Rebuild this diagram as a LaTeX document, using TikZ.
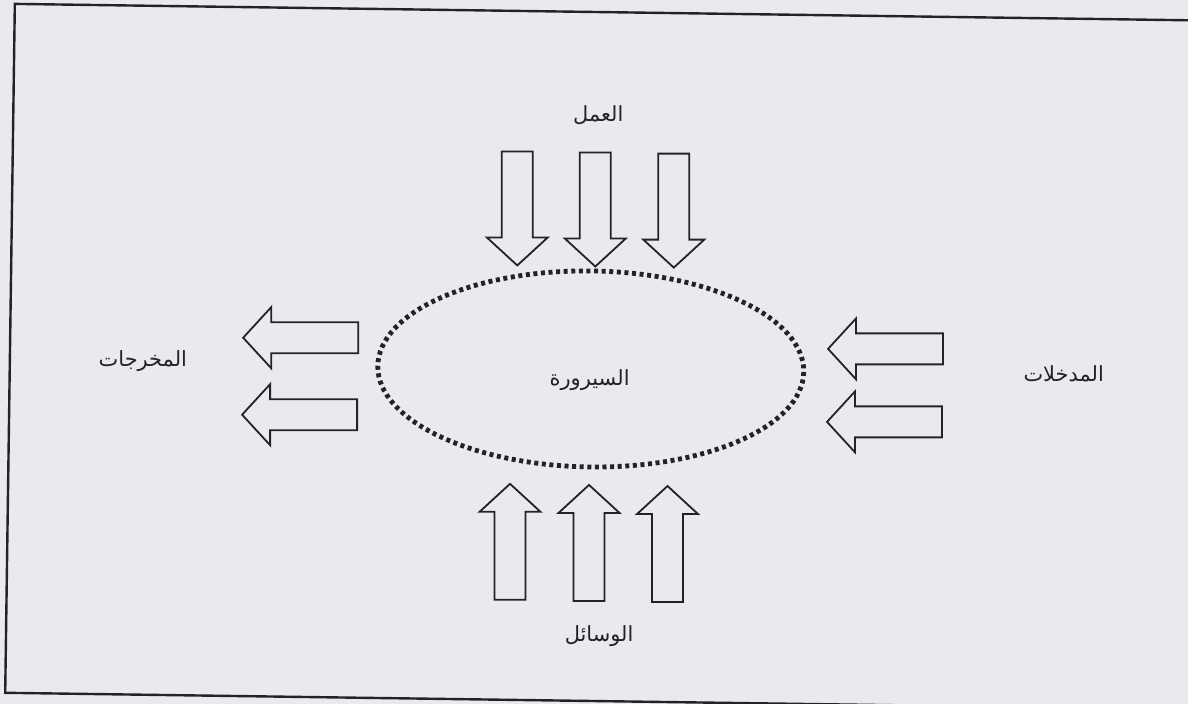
\documentclass[tikz,border=0pt]{standalone}
\usepackage{fontspec}
\newfontfamily\arabicfont[Script=Arabic]{DejaVu Sans}
\TeXXeTstate=1
\definecolor{paper}{RGB}{233,234,240}
\definecolor{ink}{RGB}{34,34,40}
\tikzset{
  arrowlen/.store in=\arrlen, arrowlen=115,
  outline/.style={draw=ink, line width=1.8bp, line join=miter},
  % hollow block arrow pointing along local +x, tail at the origin
  blockarrow/.pic={
    \draw[outline] (0,-15.5) -- ({\arrlen-28},-15.5) -- ({\arrlen-28},-30.5)
      -- (\arrlen,0) -- ({\arrlen-28},30.5) -- ({\arrlen-28},15.5)
      -- (0,15.5) -- cycle;
  },
  label/.style={font=\arabicfont\fontsize{21}{25}\selectfont, text=ink, inner sep=0pt},
  frame/.style={draw=ink, line width=2.4bp},
  process/.style={draw=ink, line width=4.8bp, dash pattern=on 4bp off 3.6bp}
}
\begin{document}
\begin{tikzpicture}[x=1bp, y=-1bp]
  \fill[paper] (0,0) rectangle (1188,704);
  \useasboundingbox (0,0) rectangle (1188,704);
  \begin{scope}[rotate around={-0.8:(594,352)}]
    % outer frame
    \draw[frame] (10,12) rectangle (1200,701);

    % central process
    \draw[process] (591,369) ellipse [x radius=213, y radius=98];
    \node[label] (process) at (590,380) {\beginR السيرورة\endR};

    % labour, from above
    \node[label] (labour) at (595,115) {\beginR العمل\endR};
    \pic[rotate=-90, arrowlen=114] (down1) at (514.5,152.5) {blockarrow};
    \pic[rotate=-90, arrowlen=114] (down2) at (592.5,152.5) {blockarrow};
    \pic[rotate=-90, arrowlen=114] (down3) at (671,152.5) {blockarrow};

    % means, from below
    \node[label] (means) at (603,636) {\beginR الوسائل\endR};
    \pic[rotate=90, arrowlen=116] (up1) at (513.5,601) {blockarrow};
    \pic[rotate=90, arrowlen=116] (up2) at (592.5,601) {blockarrow};
    \pic[rotate=90, arrowlen=116] (up3) at (671,601) {blockarrow};

    % outputs, to the left
    \node[label] (outputs) at (143,367) {\beginR المخرجات\endR};
    \pic[rotate=180] (out1) at (358,341) {blockarrow};
    \pic[rotate=180] (out2) at (358,418) {blockarrow};

    % inputs, from the right
    \node[label] (inputs) at (1064,367) {\beginR المدخلات\endR};
    \pic[rotate=180] (in1) at (943,344) {blockarrow};
    \pic[rotate=180] (in2) at (943,417) {blockarrow};
  \end{scope}
\end{tikzpicture}
\end{document}
